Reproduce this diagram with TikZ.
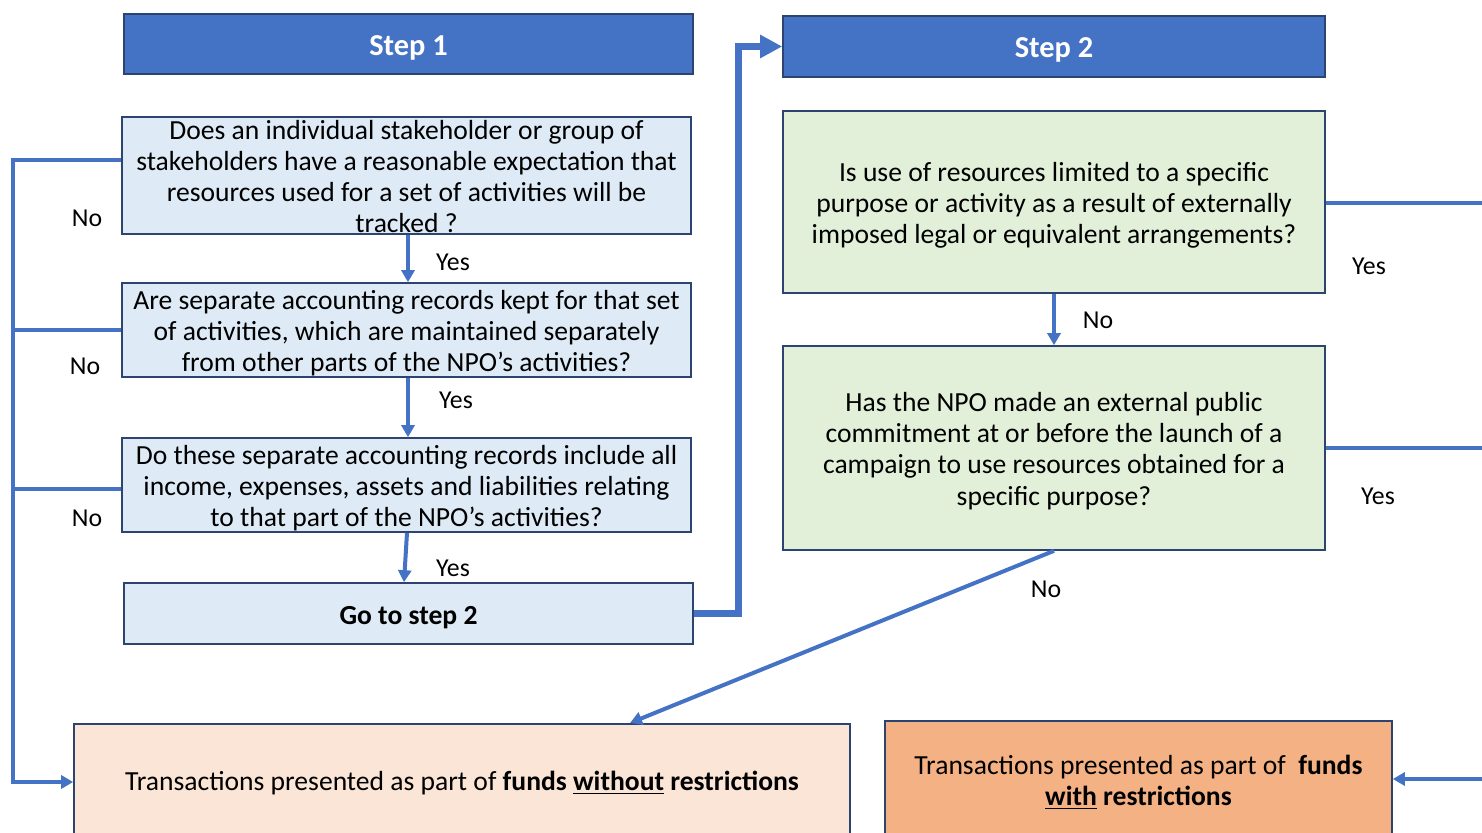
\documentclass[tikz,border=0pt]{standalone}
\usepackage{fontspec}
\setmainfont{Carlito}
\usetikzlibrary{arrows.meta}
\definecolor{lineblue}{HTML}{4472C4}
\definecolor{hdrblue}{HTML}{4472C4}
\definecolor{edge}{HTML}{2E4470}
\definecolor{lightblue}{HTML}{DEEBF7}
\definecolor{lightgreen}{HTML}{E2F0D9}
\definecolor{peach}{HTML}{FBE5D6}
\definecolor{orange}{HTML}{F4B183}
\tikzset{
  box/.style={draw=edge, line width=0.8pt, inner sep=0pt},
  hdr/.style={box, fill=hdrblue},
  bluebox/.style={box, fill=lightblue},
  greenbox/.style={box, fill=lightgreen},
  txt/.style={inner sep=0pt, align=center, font=\fontsize{13.8}{15.6}\selectfont},
  hdrtxt/.style={inner sep=0pt, text=white, font=\bfseries\fontsize{15.2}{16}\selectfont},
  conn/.style={draw=lineblue, line width=2pt},
  arr/.style={conn, -{Triangle[length=6pt,width=6.5pt]}},
  bigarr/.style={draw=lineblue, line width=3.5pt, -{Triangle[length=11pt,width=11pt]}},
  lbl/.style={inner sep=0pt, font=\fontsize{12.9}{15.6}\selectfont}
}
\begin{document}
\begin{tikzpicture}[x=0.5pt,y=-0.5pt]
\useasboundingbox (0,0) rectangle (1482,833);
\clip (0,0) rectangle (1482,833);

% headers
\node[hdr, minimum width=284.5pt, minimum height=30pt] (S1) at (408.5,44) {};
\node[hdrtxt] (S1t) at ([yshift=-2pt]S1.center) {Step 1};
\node[hdr, minimum width=271pt, minimum height=30.5pt] (S2) at (1054,46.5) {};
\node[hdrtxt] (S2t) at ([yshift=-1.5pt]S2.center) {Step 2};

% step 1 boxes
\node[bluebox, minimum width=284.5pt, minimum height=58.5pt] (A) at (406.5,175.5) {};
\node[txt] (At) at ([yshift=-0.5pt]A.center)
  {Does an individual stakeholder or group of\\stakeholders have a reasonable expectation that\\resources used for a set of activities will be\\tracked ?};
\node[bluebox, minimum width=284.5pt, minimum height=47pt] (B) at (406.5,330) {};
\node[txt] (Bt) at ([yshift=-1.5pt]B.center)
  {Are separate accounting records kept for that set\\of activities, which are maintained separately\\from other parts of the NPO’s activities?};
\node[bluebox, minimum width=284.5pt, minimum height=47pt] (C) at (406.5,485) {};
\node[txt] (Ct) at ([yshift=-1.5pt]C.center)
  {Do these separate accounting records include all\\income, expenses, assets and liabilities relating\\to that part of the NPO’s activities?};
\node[bluebox, minimum width=284.5pt, minimum height=30.5pt] (Go) at (408.5,613.5) {};
\node[txt, font=\bfseries\fontsize{13.8}{15.6}\selectfont] (Got) at ([yshift=-2pt]Go.center) {Go to step 2};

% step 2 boxes
\node[greenbox, minimum width=271pt, minimum height=91pt] (G1) at (1054,202) {};
\node[txt] (G1t) at ([yshift=-1.5pt]G1.center)
  {Is use of resources limited to a specific\\purpose or activity as a result of externally\\imposed legal or equivalent arrangements?};
\node[greenbox, minimum width=271pt, minimum height=102pt] (G2) at (1054,448) {};
\node[txt] (G2t) at ([yshift=-1.5pt]G2.center)
  {Has the NPO made an external public\\commitment at or before the launch of a\\campaign to use resources obtained for a\\specific purpose?};

% outcomes
\node[box, fill=peach, minimum width=388pt, minimum height=58pt] (BL) at (462,782) {};
\node[txt] (BLt) at ([yshift=-0.5pt]BL.center)
  {Transactions presented as part of \textbf{funds \underline{without} restrictions}};
\node[box, fill=orange, minimum width=253.5pt, minimum height=59.5pt] (BR) at (1138.5,780.5) {};
\node[txt] (BRt) at ([yshift=-1pt]BR.center)
  {Transactions presented as part of~ \textbf{funds}\\\textbf{\underline{with} restrictions}};

% coordinates for free ends
\coordinate (trunkTop) at (13,160);
\coordinate (trunkB) at (13,330);
\coordinate (trunkC) at (13,489);
\coordinate (trunkBot) at (13,782);
\coordinate (bend) at (738,613.5);
\coordinate (outG1) at (1490,203);
\coordinate (outG2) at (1490,448);
\coordinate (inBR) at (1490,779);
\coordinate (blTarget) at (630,723);

% left trunk (No branches)
\draw[arr] (A.west |- trunkTop) -- (trunkTop) -- (trunkBot) -- (BL.west);
\draw[conn] (B.west |- trunkB) -- (trunkB);
\draw[conn] (C.west |- trunkC) -- (trunkC);

% Yes arrows
\draw[arr] (A.south -| 408,0) -- (B.north -| 408,0);
\draw[arr] (B.south -| 408,0) -- (C.north -| 408,0);
\draw[arr] (C.south -| 407,0) -- (Go.north -| 404,0);

% go to step 2
\draw[bigarr] (Go.east) -- (bend) |- (S2.west);

% step 2 connectors
\draw[arr] (G1.south) -- (G2.north);
\draw[conn] (G1.east |- outG1) -- (outG1);
\draw[conn] (G2.east) -- (outG2);
\draw[arr] (inBR) -- (BR.east |- inBR);
\draw[arr] (G2.south) -- (blTarget);

% labels
\node[lbl] (n1) at (87,218) {No};
\node[lbl] (n2) at (85,366) {No};
\node[lbl] (n3) at (87,518) {No};
\node[lbl] (y1) at (453,262) {Yes};
\node[lbl] (y2) at (456,400) {Yes};
\node[lbl] (y3) at (453,568) {Yes};
\node[lbl] (n4) at (1098,320) {No};
\node[lbl] (y4) at (1369,266) {Yes};
\node[lbl] (y5) at (1378,496) {Yes};
\node[lbl] (n5) at (1046,589) {No};
\end{tikzpicture}
\end{document}
